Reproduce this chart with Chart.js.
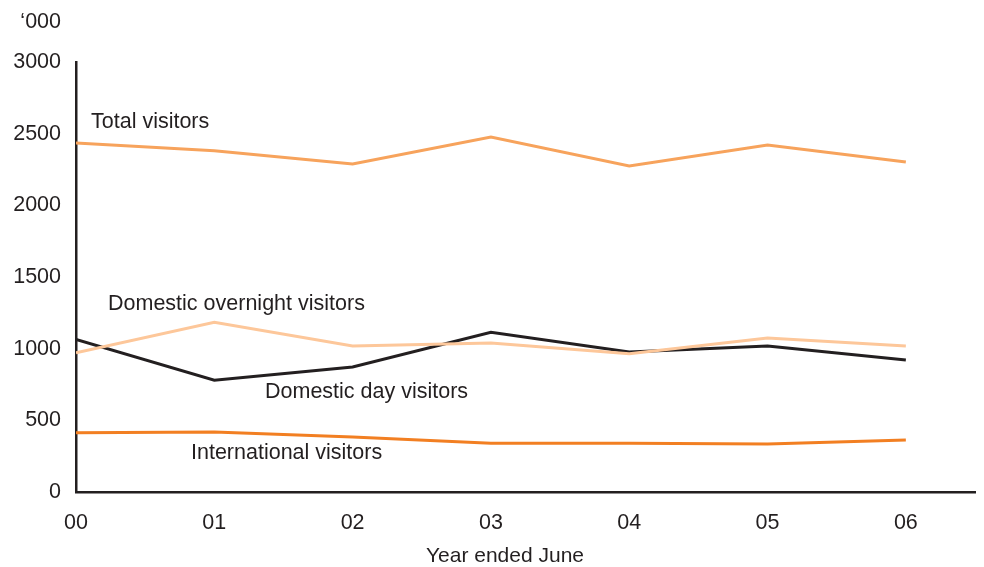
<!DOCTYPE html>
<html>
<head>
<meta charset="utf-8">
<script src="https://cdn.jsdelivr.net/npm/chart.js@4/dist/chart.umd.min.js"></script>
<style>
  html, body { margin: 0; padding: 0; background: #fff; }
  #wrap { width: 984px; height: 567px; }
</style>
</head>
<body>
<div id="wrap"><canvas id="visChart" width="984" height="567"></canvas></div>
<script>
// years ended June
const years = ['00', '01', '02', '03', '04', '05', '06'];
const yTicks = [0, 500, 1000, 1500, 2000, 2500, 3000];

// visitors ('000)
const totalVisitors = [2435, 2380, 2289, 2477, 2275, 2421, 2303];
const domesticOvernight = [972, 1184, 1019, 1040, 965, 1075, 1019];
const domesticDay = [1065, 780, 872, 1114, 977, 1019, 921];
const internationalVisitors = [414, 419, 384, 340, 340, 335, 363];

const ink = '#231f20';
const FONT = 'Liberation Sans, Arial, Helvetica, sans-serif';
const FS = 21.5;

function pts(arr) {
    return arr.map((v, i) => ({ x: i, y: v }));
}

// labels drawn next to the lines, plus the unit and axis title
const notes = {
    id: 'notes',
    afterDraw(c) {
        const ctx = c.ctx;
        ctx.save();
        ctx.fillStyle = ink;
        ctx.font = FS + 'px ' + FONT;
        ctx.textBaseline = 'middle';
        ctx.textAlign = 'left';
        ctx.fillText('Total visitors', 91, 122);
        ctx.fillText('Domestic overnight visitors', 108, 304);
        ctx.fillText('Domestic day visitors', 265, 392);
        ctx.fillText('International visitors', 191, 453);
        ctx.textAlign = 'right';
        ctx.fillText('\u2018000', 61, 22);
        ctx.textAlign = 'center';
        ctx.font = (FS - 0.5) + 'px ' + FONT;
        ctx.fillText('Year ended June', 505, 556);
        ctx.restore();
    }
};

const ctx = document.getElementById('visChart').getContext('2d');
const chart = new Chart(ctx, {
    type: 'line',
    data: {
        datasets: [
            { label: 'Total visitors', data: pts(totalVisitors), borderColor: '#f7a35c' },
            { label: 'Domestic overnight visitors', data: pts(domesticOvernight), borderColor: '#fdc79a' },
            { label: 'Domestic day visitors', data: pts(domesticDay), borderColor: ink },
            { label: 'International visitors', data: pts(internationalVisitors), borderColor: '#f27f22' }
        ]
    },
    options: {
        responsive: false,
        animation: false,
        events: [],
        elements: {
            line: { borderWidth: 3, tension: 0, fill: false },
            point: { radius: 0 }
        },
        layout: { padding: { top: 62, right: 9, left: 0, bottom: 0 } },
        plugins: {
            legend: { display: false },
            tooltip: { enabled: false }
        },
        scales: {
            x: {
                type: 'linear',
                min: 0,
                max: 6.5,
                afterBuildTicks: s => { s.ticks = years.map((_, i) => ({ value: i })); },
                afterFit: s => { s.height = 75; },
                grid: { display: false, drawTicks: false },
                border: { display: true, color: ink, width: 2.5 },
                ticks: {
                    padding: 18,
                    maxRotation: 0,
                    autoSkip: false,
                    color: ink,
                    font: { family: FONT, size: FS },
                    callback: v => years[v]
                }
            },
            y: {
                min: 0,
                max: 3000,
                afterBuildTicks: s => { s.ticks = yTicks.map(v => ({ value: v })); },
                afterFit: s => { s.width = 76; },
                grid: { display: false, drawTicks: false },
                border: { display: true, color: ink, width: 2.5 },
                ticks: {
                    padding: 15,
                    color: ink,
                    font: { family: FONT, size: FS },
                    callback: v => String(v)
                }
            }
        }
    },
    plugins: [notes]
});
</script>
</body>
</html>
